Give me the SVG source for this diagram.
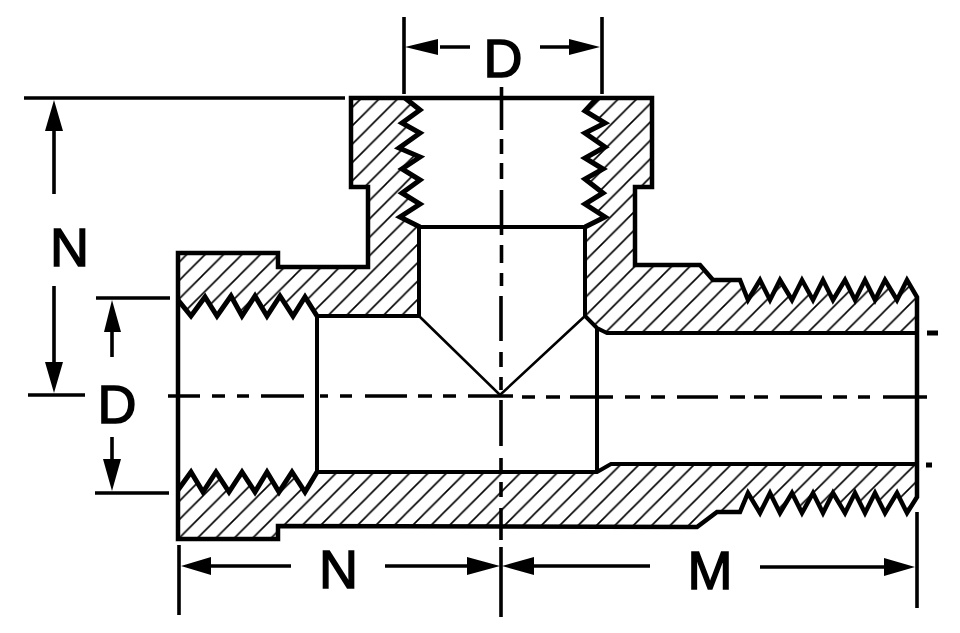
<svg xmlns="http://www.w3.org/2000/svg" width="960" height="633" viewBox="0 0 960 633">
<style>
.hatched{fill:url(#hatch);stroke:none}
.outline{fill:none;stroke:#000;stroke-width:4.5;stroke-linejoin:miter;stroke-miterlimit:4}
.thread{fill:none;stroke:#000;stroke-width:5;stroke-linejoin:miter;stroke-miterlimit:4}
.bore{fill:none;stroke:#000;stroke-width:4}
.thin{fill:none;stroke:#000;stroke-width:2.6}
.center{fill:none;stroke:#000;stroke-width:3.6}
.dim{fill:none;stroke:#000;stroke-width:3.6}
.mark{fill:none;stroke:#000;stroke-width:5}
.head{fill:#000;stroke:none}
.label{font-family:"Liberation Sans",Arial,sans-serif;font-size:54px;fill:#000;text-anchor:middle;stroke:#000;stroke-width:1.5}
</style>
<defs>
<pattern id="hatch" patternUnits="userSpaceOnUse" x="-0.4" y="0" width="18.4" height="18.4">
<path d="M18.4 0L0 18.4M-2 2L2 -2M16.4 20.4L20.4 16.4" stroke="#000" stroke-width="1.6" fill="none"/>
</pattern>
</defs>
<rect width="960" height="633" fill="#fff"/>
<g id="section">
<path class="hatched" d="M351 98H405L420 110L402 123L420 133L399 148L420 157L402 169L420 180L402 193L420 204L400 217L420 227V316H317L305 297L293 316L280 296L267 316L255 296L242 316L231 296L217 316L205 297L191 316L178 300V253H278V267H368V187H351Z"/>
<path class="hatched" d="M597 98L585 111L605 123L585 133L605 147L585 158L603 169L585 179L603 193L585 204L605 217L585 227V316L597 328L607 333H917V297L907 280L897 300L885 280L875 300L865 280L855 300L845 280L833 300L823 280L813 300L802 280L792 300L780 280L770 300L760 280L748 300L740 280H713L700 265H635V187H652V98Z"/>
<path class="hatched" d="M178 490L191 472L203 492L216 472L229 492L242 472L255 492L267 472L279 492L292 472L305 492L317 472H597L611 464H917V497L907 513L897 493L885 513L875 493L865 513L855 493L845 513L833 493L823 513L813 493L802 513L792 493L780 513L770 493L760 513L748 493L740 512H717L697 527L278 526V539H178Z"/>
<path class="outline" d="M405 98H351V187H368V267H278V253H178V539H278V526L697 527L717 512H740L748 493L760 513L770 493L780 513L792 493L802 513L813 493L823 513L833 493L845 513L855 493L865 513L875 493L885 513L897 493L907 513L917 497V297L907 280L897 300L885 280L875 300L865 280L855 300L845 280L833 300L823 280L813 300L802 280L792 300L780 280L770 300L760 280L748 300L740 280H713L700 265H635V187H652V98H405"/>
<path class="thread" d="M405 98L420 110L402 123L420 133L399 148L420 157L402 169L420 180L402 193L420 204L400 217L420 227"/>
<path class="thread" d="M597 98L585 111L605 123L585 133L605 147L585 158L603 169L585 179L603 193L585 204L605 217L585 227"/>
<path class="thread" d="M178 300L191 316L205 297L217 316L231 296L242 316L255 296L267 316L280 296L293 316L305 297L317 316"/>
<path class="thread" d="M178 490L191 472L203 492L216 472L229 492L242 472L255 492L267 472L279 492L292 472L305 492L317 472"/>
<path class="bore" d="M420 227H585M419 227V316H317V472H597L611 464H917M585 227V316L597 328L607 333H917M597 328V472"/>
<path class="thin" d="M419 316L500 395L585 316"/>
</g>
<g id="centerlines">
<path class="center" d="M168 396H200M212 396H225M237 396H249M261 396H304M320 396H328M340 396H352M365 396H407M418 396H432M443 396H456M468 396H513M522 397H535M546 397H560M570 397H613M625 397H640M651 397H665M677 397H718M730 397H745M754 397H768M780 397H822M833 397H847M858 397H870M883 397H927"/>
<path class="center" d="M501.500 87V130M501.500 139V154M501.500 163V179M501.500 190V235M501.500 245V263M501.500 273V286M501 296V341M501 352V367M501 377V390M501 400V446M501 458V473M501 482V497M501 508V540M501 547V617"/>
<path class="mark" d="M927 333H938M926 465H932"/>
</g>
<g id="dimensions">
<path class="dim" d="M404 17V94M602 17V94M440 47H470M540 47H570"/>
<path class="head" d="M405 47L438 39V55ZM600 47L569 39V55Z"/>
<path class="dim" d="M24 98H345M28 395H85M96 298H170M95 493H169"/>
<path class="dim" d="M54 131V194M54 286V363M112 332V357M112 437V459"/>
<path class="head" d="M54 100L45 131H63ZM54 393L45 362H63ZM112 300L104 332H121ZM112 491L103 459H121Z"/>
<path class="dim" d="M179 545V615M917 512V608M211 566H291M385 566H467M534 566H650M760 567H884"/>
<path class="head" d="M181 566L211 557V575ZM500 566L467 557V575ZM502 566L534 557V575ZM915 567L884 558V576Z"/>
</g>
<g id="labels">
<text class="label" x="503" y="76.500">D</text>
<text class="label" x="69.500" y="265.500">N</text>
<text class="label" x="117" y="422.500">D</text>
<text class="label" x="338.500" y="587.500">N</text>
<text class="label" x="710" y="588.500">M</text>
</g>
</svg>
